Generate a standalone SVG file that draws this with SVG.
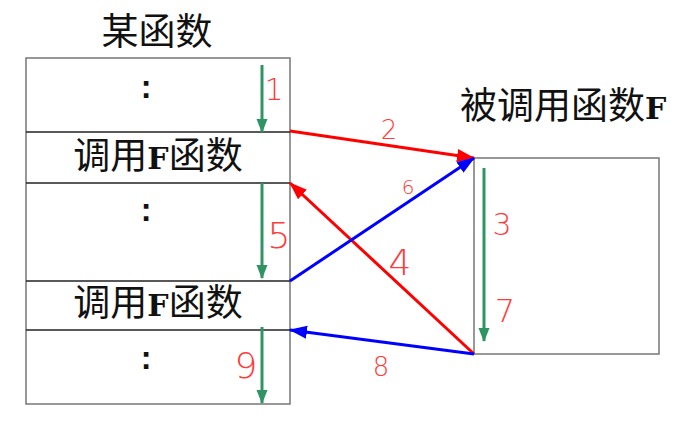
<svg xmlns="http://www.w3.org/2000/svg" width="699" height="421" viewBox="0 0 699 421">
<style>
.cjk{font-family:"Noto Sans CJK SC","Noto Sans",sans-serif;font-size:37px;fill:#111}
.f{font-family:"DejaVu Serif","Liberation Serif",serif;font-weight:bold;font-size:30px}
.col{font-family:"Liberation Mono",monospace;font-weight:bold;font-size:32px;fill:#111;text-anchor:middle}
.num{font-family:"DejaVu Sans",sans-serif;font-weight:200;fill:#ff3b3b;text-anchor:middle}
.box{fill:#fff;stroke:#777;stroke-width:1.5}
.div{stroke:#222;stroke-width:1.3}
.g{stroke:#2e9463;stroke-width:3;fill:none}
.r{stroke:#ff0000;stroke-width:3;fill:none}
.b{stroke:#0000ff;stroke-width:3;fill:none}
</style>
<defs>
<marker id="ag" markerUnits="userSpaceOnUse" markerWidth="14" markerHeight="14" viewBox="0 0 14 14" refX="13" refY="7" orient="auto"><path d="M0,1.5 L14,7 L0,12.5 Z" fill="#2e9463"/></marker>
<marker id="ar" markerUnits="userSpaceOnUse" markerWidth="18" markerHeight="16" viewBox="0 0 18 16" refX="17" refY="8" orient="auto"><path d="M0,1.5 L18,8 L0,14.5 Z" fill="#ff0000"/></marker>
<marker id="ab" markerUnits="userSpaceOnUse" markerWidth="18" markerHeight="16" viewBox="0 0 18 16" refX="17" refY="8" orient="auto"><path d="M0,1.5 L18,8 L0,14.5 Z" fill="#0000ff"/></marker>
</defs>

<g id="caller">
<text class="cjk" x="157" y="45" text-anchor="middle">某函数</text>
<rect class="box" x="26" y="58" width="264" height="346"/>
<line class="div" x1="26" y1="132" x2="290" y2="132"/>
<line class="div" x1="26" y1="183" x2="290" y2="183"/>
<line class="div" x1="26" y1="281" x2="290" y2="281"/>
<line class="div" x1="26" y1="330" x2="290" y2="330"/>
<text class="col" x="146" y="98">:</text>
<text class="cjk" x="158" y="169" text-anchor="middle">调用<tspan class="f">F</tspan>函数</text>
<text class="col" x="146" y="221">:</text>
<text class="cjk" x="158" y="316" text-anchor="middle">调用<tspan class="f">F</tspan>函数</text>
<text class="col" x="146" y="369">:</text>
</g>

<g id="callee">
<text class="cjk" x="460" y="119">被调用函数<tspan class="f">F</tspan></text>
<rect class="box" x="474" y="158" width="185" height="196"/>
</g>

<g id="connectors">
<line class="g" x1="262" y1="65" x2="262" y2="132" marker-end="url(#ag)"/>
<line class="g" x1="262" y1="183" x2="262" y2="278" marker-end="url(#ag)"/>
<line class="g" x1="262" y1="327" x2="262" y2="403" marker-end="url(#ag)"/>
<line class="g" x1="484" y1="168" x2="484" y2="341" marker-end="url(#ag)"/>
<line class="r" x1="290" y1="131" x2="474" y2="158" marker-end="url(#ar)"/>
<line class="r" x1="474" y1="354" x2="290" y2="183" marker-end="url(#ar)"/>
<line class="b" x1="290" y1="281" x2="474" y2="158" marker-end="url(#ab)"/>
<line class="b" x1="474" y1="354" x2="290" y2="330" marker-end="url(#ab)"/>
</g>

<g id="labels">
<text class="num" x="274" y="100" font-size="30">1</text>
<text class="num" x="389" y="139" font-size="26">2</text>
<text class="num" x="502" y="235" font-size="30">3</text>
<text class="num" x="400" y="275" font-size="36">4</text>
<text class="num" x="279" y="248" font-size="36">5</text>
<text class="num" x="408" y="194" font-size="20">6</text>
<text class="num" x="505" y="322" font-size="32">7</text>
<text class="num" x="381" y="376" font-size="26">8</text>
<text class="num" x="246" y="378" font-size="36">9</text>
</g>
</svg>
